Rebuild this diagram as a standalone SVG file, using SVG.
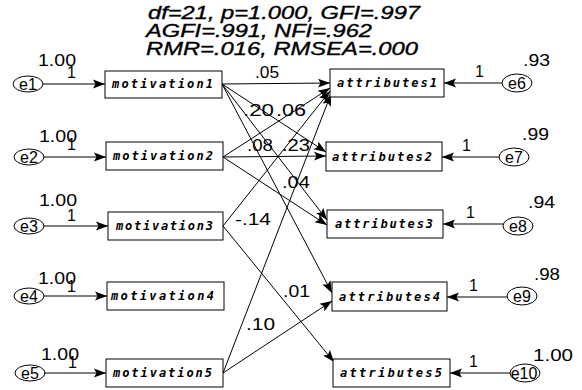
<svg xmlns="http://www.w3.org/2000/svg" width="582" height="390" viewBox="0 0 582 390">
<defs>
<marker id="ah" markerUnits="userSpaceOnUse" markerWidth="13" markerHeight="10" refX="12" refY="5" orient="auto">
<path d="M0,0.5 L12,5 L0,9.5 L2.5,5 z" fill="#000"/>
</marker>
<style>
.box{fill:#fff;stroke:#000;stroke-width:1}
.ell{fill:#fff;stroke:#000;stroke-width:1}
.bl{font-family:"DejaVu Sans Mono",monospace;font-weight:bold;font-style:italic;font-size:12px;fill:#000}
.el{font-family:"Liberation Sans",Arial,sans-serif;font-size:16px;fill:#000}
.lb{font-family:"Liberation Sans",Arial,sans-serif;font-size:16px;fill:#000}
.ti{font-family:"Liberation Sans",Arial,sans-serif;font-style:italic;font-size:18px;fill:#000;stroke:#000;stroke-width:0.35}
.c line{stroke:#000;stroke-width:1;marker-end:url(#ah)}
</style>
</defs>
<rect width="582" height="390" fill="#fff"/>
<g id="title">
<text class="ti" x="148" y="19" textLength="272" lengthAdjust="spacingAndGlyphs">df=21, p=1.000, GFI=.997</text>
<text class="ti" x="146" y="37" textLength="226" lengthAdjust="spacingAndGlyphs">AGFI=.991, NFI=.962</text>
<text class="ti" x="146" y="55" textLength="272" lengthAdjust="spacingAndGlyphs">RMR=.016, RMSEA=.000</text>
</g>
<g class="c" id="connectors">
<line x1="43" y1="84" x2="105" y2="84"/>
<line x1="44" y1="157" x2="106" y2="157"/>
<line x1="44" y1="226" x2="108" y2="226"/>
<line x1="44" y1="296" x2="107" y2="296"/>
<line x1="45" y1="373" x2="106" y2="373"/>
<line x1="502" y1="83" x2="444" y2="83"/>
<line x1="499" y1="157" x2="442" y2="157"/>
<line x1="503" y1="224" x2="443" y2="224"/>
<line x1="507" y1="297" x2="447" y2="297"/>
<line x1="510" y1="373" x2="450" y2="373"/>
<line x1="222" y1="84" x2="330" y2="83"/>
<line x1="222" y1="84" x2="326" y2="152"/>
<line x1="222" y1="84" x2="327" y2="220"/>
<line x1="222" y1="84" x2="332" y2="293"/>
<line x1="223" y1="157" x2="330" y2="88"/>
<line x1="223" y1="157" x2="326" y2="156"/>
<line x1="223" y1="157" x2="327" y2="225"/>
<line x1="223" y1="226" x2="330" y2="91"/>
<line x1="223" y1="226" x2="334" y2="362"/>
<line x1="223" y1="373" x2="331" y2="94"/>
<line x1="223" y1="373" x2="332" y2="301"/>
</g>
<g id="path-labels">
<text class="lb" x="255" y="78" textLength="24" lengthAdjust="spacingAndGlyphs">.05</text>
<text class="lb" x="243" y="116" textLength="31" lengthAdjust="spacingAndGlyphs">.20</text>
<text class="lb" x="276" y="116" textLength="30" lengthAdjust="spacingAndGlyphs">.06</text>
<text class="lb" x="247" y="151" textLength="26" lengthAdjust="spacingAndGlyphs">.08</text>
<text class="lb" x="282" y="151" textLength="28" lengthAdjust="spacingAndGlyphs">.23</text>
<text class="lb" x="282" y="188" textLength="28" lengthAdjust="spacingAndGlyphs">.04</text>
<text class="lb" x="235" y="225" textLength="36" lengthAdjust="spacingAndGlyphs">-.14</text>
<text class="lb" x="283" y="297" textLength="27" lengthAdjust="spacingAndGlyphs">.01</text>
<text class="lb" x="246" y="330" textLength="29" lengthAdjust="spacingAndGlyphs">.10</text>
<text class="lb" x="67" y="78">1</text>
<text class="lb" x="67" y="150">1</text>
<text class="lb" x="67" y="221">1</text>
<text class="lb" x="67" y="292">1</text>
<text class="lb" x="68" y="368">1</text>
<text class="lb" x="475" y="77">1</text>
<text class="lb" x="462" y="151">1</text>
<text class="lb" x="466" y="218">1</text>
<text class="lb" x="469" y="291">1</text>
<text class="lb" x="469" y="367">1</text>
</g>
<g id="e1"><ellipse class="ell" cx="28" cy="84" rx="15" ry="8"/><text class="el" x="28" y="90" text-anchor="middle">e1</text><text class="lb" x="38" y="66" textLength="38" lengthAdjust="spacingAndGlyphs">1.00</text></g>
<g id="e2"><ellipse class="ell" cx="29" cy="157" rx="15" ry="8"/><text class="el" x="29" y="163" text-anchor="middle">e2</text><text class="lb" x="39" y="142" textLength="38" lengthAdjust="spacingAndGlyphs">1.00</text></g>
<g id="e3"><ellipse class="ell" cx="29" cy="226" rx="15" ry="8"/><text class="el" x="29" y="232" text-anchor="middle">e3</text><text class="lb" x="39" y="206" textLength="38" lengthAdjust="spacingAndGlyphs">1.00</text></g>
<g id="e4"><ellipse class="ell" cx="29" cy="296" rx="15" ry="8"/><text class="el" x="29" y="302" text-anchor="middle">e4</text><text class="lb" x="38" y="284" textLength="38" lengthAdjust="spacingAndGlyphs">1.00</text></g>
<g id="e5"><ellipse class="ell" cx="30" cy="373" rx="15" ry="8"/><text class="el" x="30" y="379" text-anchor="middle">e5</text><text class="lb" x="41" y="360" textLength="38" lengthAdjust="spacingAndGlyphs">1.00</text></g>
<g id="e6"><ellipse class="ell" cx="517" cy="83" rx="15" ry="9"/><text class="el" x="517" y="89" text-anchor="middle">e6</text><text class="lb" x="523" y="66" textLength="27" lengthAdjust="spacingAndGlyphs">.93</text></g>
<g id="e7"><ellipse class="ell" cx="514" cy="157" rx="15" ry="9"/><text class="el" x="514" y="163" text-anchor="middle">e7</text><text class="lb" x="522" y="140" textLength="27" lengthAdjust="spacingAndGlyphs">.99</text></g>
<g id="e8"><ellipse class="ell" cx="518" cy="226" rx="15" ry="9"/><text class="el" x="518" y="232" text-anchor="middle">e8</text><text class="lb" x="528" y="208" textLength="27" lengthAdjust="spacingAndGlyphs">.94</text></g>
<g id="e9"><ellipse class="ell" cx="522" cy="296" rx="15" ry="9"/><text class="el" x="522" y="302" text-anchor="middle">e9</text><text class="lb" x="534" y="280" textLength="26" lengthAdjust="spacingAndGlyphs">.98</text></g>
<g id="e10"><ellipse class="ell" cx="525" cy="373" rx="15" ry="9"/><text class="el" x="524" y="379" text-anchor="middle">e10</text><text class="lb" x="533" y="361" textLength="40" lengthAdjust="spacingAndGlyphs">1.00</text></g>
<g id="motivation1"><rect class="box" x="105" y="71" width="117" height="27"/><text class="bl" x="112" y="88" textLength="101" lengthAdjust="spacing">motivation1</text></g>
<g id="motivation2"><rect class="box" x="106" y="142" width="117" height="28"/><text class="bl" x="113" y="160" textLength="100" lengthAdjust="spacing">motivation2</text></g>
<g id="motivation3"><rect class="box" x="108" y="212" width="115" height="28"/><text class="bl" x="116" y="230" textLength="97" lengthAdjust="spacing">motivation3</text></g>
<g id="motivation4"><rect class="box" x="107" y="282" width="117" height="28"/><text class="bl" x="111" y="300" textLength="103" lengthAdjust="spacing">motivation4</text></g>
<g id="motivation5"><rect class="box" x="106" y="359" width="117" height="28"/><text class="bl" x="113" y="377" textLength="99" lengthAdjust="spacing">motivation5</text></g>
<g id="attributes1"><rect class="box" x="330" y="69" width="114" height="28"/><text class="bl" x="337" y="87" textLength="100" lengthAdjust="spacing">attributes1</text></g>
<g id="attributes2"><rect class="box" x="326" y="142" width="116" height="29"/><text class="bl" x="332" y="161" textLength="100" lengthAdjust="spacing">attributes2</text></g>
<g id="attributes3"><rect class="box" x="327" y="210" width="116" height="28"/><text class="bl" x="335" y="228" textLength="98" lengthAdjust="spacing">attributes3</text></g>
<g id="attributes4"><rect class="box" x="332" y="282" width="115" height="29"/><text class="bl" x="339" y="301" textLength="101" lengthAdjust="spacing">attributes4</text></g>
<g id="attributes5"><rect class="box" x="333" y="359" width="117" height="28"/><text class="bl" x="340" y="377" textLength="102" lengthAdjust="spacing">attributes5</text></g>
</svg>
